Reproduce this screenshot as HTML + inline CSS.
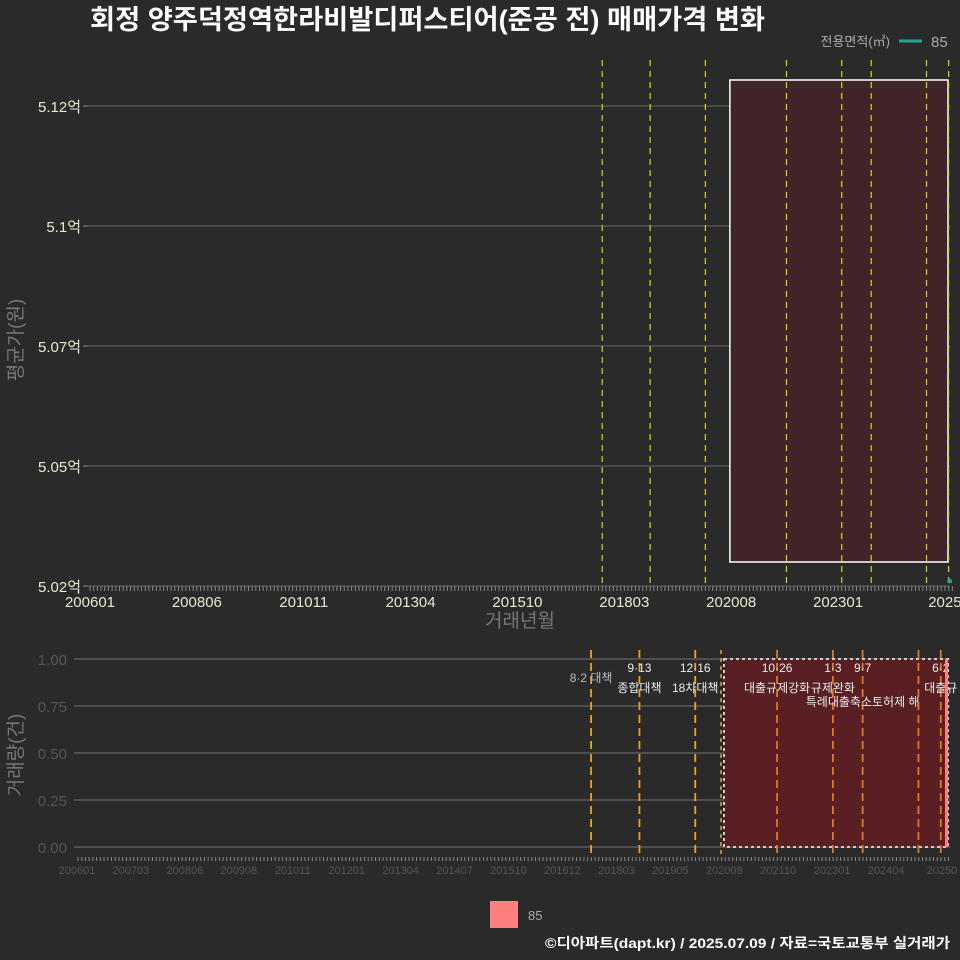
<!DOCTYPE html>
<html><head><meta charset="utf-8"><style>
body{margin:0;background:#2a2a2a;width:960px;height:960px;overflow:hidden;font-family:"Liberation Sans","Noto Sans CJK KR",sans-serif}
svg{display:block}
</style></head><body>
<svg width="960" height="960" xmlns="http://www.w3.org/2000/svg" id="svg">
<rect width="960" height="960" fill="#2a2a2a"/>
<text x="90" y="29" font-size="27" font-weight="bold" fill="#ffffff" textLength="675" lengthAdjust="spacingAndGlyphs">회정 양주덕정역한라비발디퍼스티어(준공 전) 매매가격 변화</text>
<text x="890" y="46" font-size="13" fill="#aaaaaa" text-anchor="end">전용면적(㎡)</text>
<line x1="899" y1="41" x2="922" y2="41" stroke="#2aa198" stroke-width="3"/>
<text x="931" y="47" font-size="15" fill="#aaaaaa">85</text>
<text transform="translate(22,340) rotate(-90)" font-size="19" fill="#777" text-anchor="middle">평균가(원)</text>
<text x="520" y="627" font-size="19" fill="#777" text-anchor="middle">거래년월</text>
<text transform="translate(22,755) rotate(-90)" font-size="19" fill="#777" text-anchor="middle">거래량(건)</text>
<rect x="490" y="901" width="28" height="27" fill="#ff7f7f"/>
<text x="528" y="920" font-size="13" fill="#aaaaaa">85</text>
<text x="950" y="948" font-size="14" font-weight="bold" fill="#ffffff" text-anchor="end" textLength="405" lengthAdjust="spacingAndGlyphs">©디아파트(dapt.kr) / 2025.07.09 / 자료=국토교통부 실거래가</text>
<g id="top"></g><g id="bot"></g>
</svg>
<script>
const priceTicks=[5.024,5.048,5.072,5.096,5.12];
const priceTickLabels=["5.02억","5.05억","5.07억","5.1억","5.12억"];
const topXLabels=["200601","200806","201011","201304","201510","201803","202008","202301","2025"];
const botXLabels=["200601","200703","200806","200908","201011","201201","201304","201407","201510","201612","201803","201905","202008","202110","202301","202404","20250"];
const eventMonths=["201708","201809","201912","202110","202301","202309","202412","202506"];
const eventTop=["8·2 대책","9·13","12·16","10·26","1·3","9·7","","6·2"];
const eventBottom=["","종합대책","18차대책","대출규제강화","규제완화","특례대출축소토허제 해","","대출규"];
const saleMonths=["202506"];
const salePrices=[5.025];
const volCounts=[1];
const volTicks=[0,0.25,0.5,0.75,1];
const NS="http://www.w3.org/2000/svg";
function mi(s){return (parseInt(s.slice(0,4))-2006)*12+parseInt(s.slice(4,6)||"1")-1;}
function xT(m){return 90+m*3.685;}
function yT(v){return 586-(v-5.024)/(0.096)*480;}
function xB(m){return 78+m*3.72;}
function yB(v){return 847-v*188;}
function el(p,t,a,txt){const e=document.createElementNS(NS,t);for(const k in a)e.setAttribute(k,a[k]);if(txt!==undefined)e.textContent=txt;p.appendChild(e);return e;}
const topG=document.getElementById('top'),botG=document.getElementById('bot');
priceTicks.forEach((v,i)=>{
 let g=el(topG,'line',{x1:88,x2:950,y1:yT(v),y2:yT(v),stroke:'#5a5a5a','stroke-width':1.2});
 
 
 let t=el(topG,'text',{x:81,y:yT(v)+6,'font-size':15,fill:'#e8e8d0','text-anchor':'end'},priceTickLabels[i]);
 
 
 el(topG,'line',{x1:83,x2:88,y1:yT(v),y2:yT(v),stroke:'#888'});
});
for(let m=0;m<=234;m++){el(topG,'line',{x1:xT(m),x2:xT(m),y1:586,y2:591,stroke:'#888','stroke-width':1});}
topXLabels.forEach((s,i)=>{const m=i*29;
 let t=el(topG,'text',{x:xT(m),y:607,'font-size':15,fill:'#e8e8d0','text-anchor':'middle'},s);
 
 });
let r=el(topG,'rect',{x:xT(mi("202008"))-5,y:80,width:948-xT(mi("202008"))+5,height:482,fill:'#3f2527',stroke:'#ffffff','stroke-width':1.5});


eventMonths.forEach(s=>{let l=el(topG,'line',{x1:xT(mi(s)),x2:xT(mi(s)),y1:60,y2:586,stroke:'#d4d41a','stroke-width':1.2,'stroke-dasharray':'6,5'});
 
 });
saleMonths.forEach((s,i)=>{let c=el(topG,'circle',{cx:xT(mi(s))+1,cy:yT(salePrices[i]),r:2.5,fill:'#2aa198'});
 
 });
volTicks.forEach(v=>{
 let g=el(botG,'line',{x1:74,x2:950,y1:yB(v),y2:yB(v),stroke:'#666','stroke-width':1.2});
 
 
 let t=el(botG,'text',{x:67,y:yB(v)+6,'font-size':15,fill:'#555','text-anchor':'end'},v.toFixed(2));
 
 
});
for(let m=0;m<=234;m++){el(botG,'line',{x1:xB(m),x2:xB(m),y1:857,y2:861,stroke:'#888','stroke-width':1});}
botXLabels.forEach((s,i)=>{
 let t=el(botG,'text',{x:i==16?942:xB(i*14.5)-1,y:874,'font-size':11,fill:'#555','text-anchor':'middle'},s);
 
 });
let r2=el(botG,'rect',{x:724,y:yB(1),width:224,height:yB(0)-yB(1),fill:'#5a1f22',stroke:'#cccccc','stroke-width':2,'stroke-dasharray':'3,3'});


eventMonths.forEach((s,i)=>{const x=xB(mi(s))-4;
 let l=el(botG,'line',{x1:x,x2:x,y1:650,y2:857,stroke:x>724?'#e07a20':'#f0a020','stroke-width':1.8,'stroke-dasharray':'8,5'});
 
 
 if(eventTop[i]){let t=el(botG,'text',{x:x,y:i==0?682:672,'font-size':12,fill:i==0?'#bbb':'#eee','text-anchor':'middle'},eventTop[i]);
  
  }
 if(eventBottom[i]){let t=el(botG,'text',{x:x,y:i==5?706:692,'font-size':12,fill:'#eee','text-anchor':'middle'},eventBottom[i]);
  
  }
});
el(botG,'line',{x1:721,x2:721,y1:650,y2:857,stroke:'#f0a020','stroke-width':1.5,'stroke-dasharray':'4,4'});
saleMonths.forEach((s,i)=>{let b=el(botG,'rect',{x:945,y:yB(volCounts[i]),width:3,height:yB(0)-yB(volCounts[i]),fill:'#ff7f7f'});
 
 });
</script>
</body></html>
